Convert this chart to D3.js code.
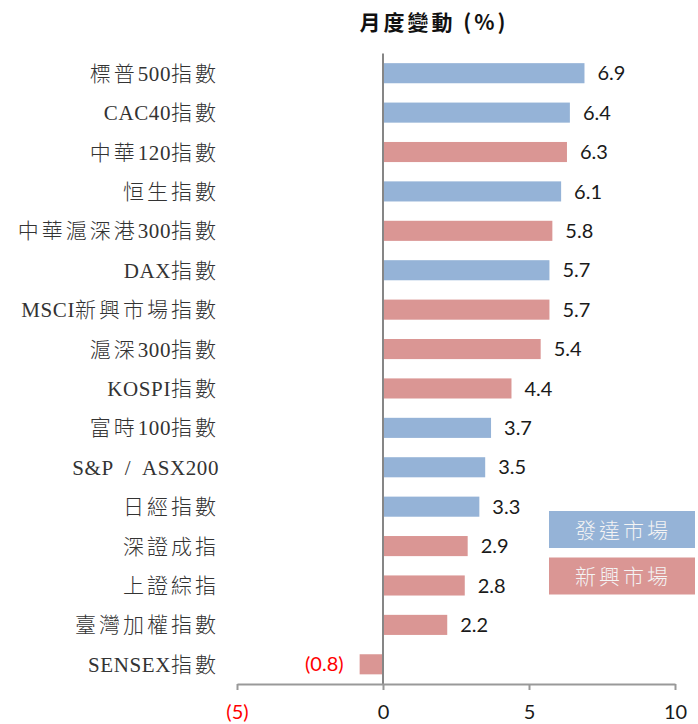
<!DOCTYPE html>
<html>
<head>
<meta charset="utf-8">
<script src="https://cdn.jsdelivr.net/npm/d3@7"></script>
<style>
  body { margin: 0; background: #fff; }
  svg { display: block; }
  .cat-label { font-family: "Liberation Serif", "Noto Sans CJK TC", serif; font-size: 21px; font-weight: 300; fill: #333; }
  .val-label { font-family: Lato, "Open Sans", sans-serif; font-size: 20px; }
  .tick text { font-family: Lato, "Open Sans", sans-serif; font-size: 20px; }
</style>
</head>
<body>
<div id="chart"></div>
<script>
// Data
const categories = ['標普500指數', 'CAC40指數', '中華120指數', '恒生指數', '中華滬深港300指數', 'DAX指數',
    'MSCI新興市場指數', '滬深300指數', 'KOSPI指數', '富時100指數', 'S&P / ASX200', '日經指數',
    '深證成指', '上證綜指', '臺灣加權指數', 'SENSEX指數'];
const values = [6.9, 6.4, 6.3, 6.1, 5.8, 5.7, 5.7, 5.4, 4.4, 3.7, 3.5, 3.3, 2.9, 2.8, 2.2, -0.8];
const markets = ['dev', 'dev', 'em', 'dev', 'em', 'dev', 'em', 'em', 'em', 'dev', 'dev', 'dev', 'em', 'em', 'em', 'em'];
const legendNames = { dev: '發達市場', em: '新興市場' };
const xTicks = [-5, 0, 5, 10];
const title = '月度變動 (%)';

const COLORS = { dev: '#95b3d7', em: '#da9694' };
const W = 698, H = 724;

const svg = d3.select('#chart').append('svg')
    .attr('width', W)
    .attr('height', H);

const x = d3.scaleLinear().domain([-5, 10]).range([237, 675]);
const y = d3.scaleBand().domain(categories).range([53.5, 684])
    .paddingInner(0.49).paddingOuter(0.245);

const fmt = v => v < 0 ? `(${Math.abs(v)})` : `${v}`;
const rows = categories.map((c, i) => ({ name: c, value: values[i], market: markets[i] }));

// split a label into latin / CJK runs so they can be spaced differently
const runs = s => s.match(/[\x00-\x7F]+|[^\x00-\x7F]+/g);
const isLatin = s => /^[\x00-\x7F]+$/.test(s);

// Title
svg.append('text')
    .attr('x', 434)
    .attr('y', 30)
    .attr('text-anchor', 'middle')
    .style('font-family', '"Noto Sans CJK TC", sans-serif')
    .style('font-size', '21px')
    .style('font-weight', 'bold')
    .style('letter-spacing', '3px')
    .style('fill', '#111')
    .text(title);

// Bars
svg.append('g').selectAll('rect')
    .data(rows)
    .join('rect')
    .attr('x', d => x(Math.min(0, d.value)))
    .attr('y', d => y(d.name))
    .attr('width', d => Math.abs(x(d.value) - x(0)))
    .attr('height', y.bandwidth())
    .attr('fill', d => COLORS[d.market]);

// Value labels
svg.append('g').selectAll('text')
    .data(rows)
    .join('text')
    .attr('class', 'val-label')
    .attr('x', d => d.value < 0 ? x(d.value) - 16 : x(d.value) + 13)
    .attr('y', d => y(d.name) + y.bandwidth() / 2)
    .attr('dy', '0.36em')
    .attr('text-anchor', d => d.value < 0 ? 'end' : 'start')
    .style('fill', d => d.value < 0 ? '#ff0000' : '#1a1a1a')
    .text(d => fmt(d.value));

// Category labels
svg.append('g').selectAll('text')
    .data(rows)
    .join('text')
    .attr('class', 'cat-label')
    .attr('x', 219)
    .attr('y', d => y(d.name) + y.bandwidth() / 2)
    .attr('dy', '0.36em')
    .attr('text-anchor', 'end')
    .selectAll('tspan')
    .data(d => runs(d.name))
    .join('tspan')
    .style('letter-spacing', s => isLatin(s) ? '0.6px' : '3px')
    .style('word-spacing', s => isLatin(s) ? '6px' : null)
    .text(s => s);

// Zero line
svg.append('line')
    .attr('x1', x(0)).attr('x2', x(0))
    .attr('y1', y.range()[0]).attr('y2', y.range()[1])
    .attr('stroke', '#868686')
    .attr('stroke-width', 2);

// X axis
const axis = svg.append('g')
    .attr('transform', `translate(0,${y.range()[1]})`)
    .call(d3.axisBottom(x).tickValues(xTicks).tickSize(6).tickSizeOuter(0).tickFormat(fmt));
axis.select('.domain').attr('stroke', '#999').attr('stroke-width', 2);
axis.selectAll('.tick line').attr('stroke', '#999').attr('stroke-width', 2);
axis.selectAll('.tick text')
    .attr('y', 21)
    .attr('dy', '0.71em')
    .style('fill', d => d < 0 ? '#ff0000' : '#1a1a1a');

// Legend
const legend = svg.append('g').selectAll('g')
    .data(['dev', 'em'])
    .join('g')
    .attr('transform', (d, i) => `translate(549,${511 + i * 46.5})`);
legend.append('rect')
    .attr('width', 146)
    .attr('height', 37)
    .attr('fill', d => COLORS[d]);
legend.append('text')
    .attr('x', 74)
    .attr('y', 19)
    .attr('dy', '0.36em')
    .attr('text-anchor', 'middle')
    .style('font-family', '"Noto Sans CJK TC", sans-serif')
    .style('font-size', '21px')
    .style('font-weight', 300)
    .style('letter-spacing', '3px')
    .style('fill', '#f4f4f4')
    .text(d => legendNames[d]);
</script>
</body>
</html>
